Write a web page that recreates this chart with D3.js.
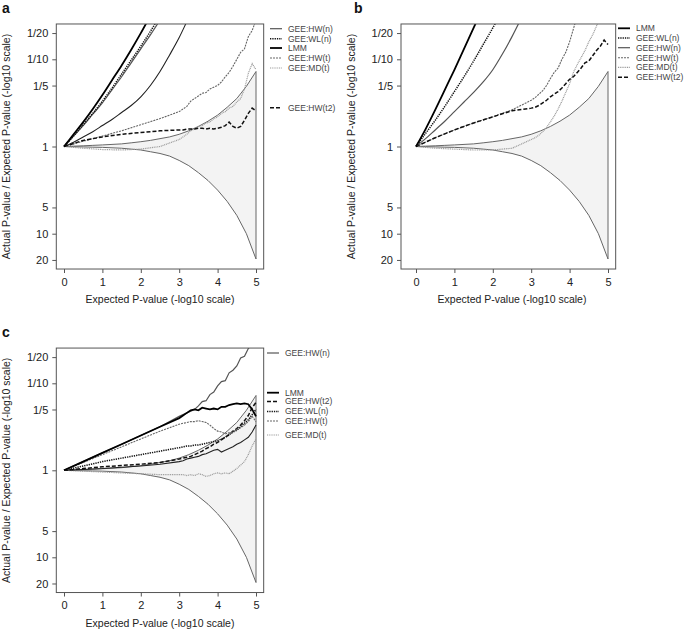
<!DOCTYPE html>
<html>
<head>
<meta charset="utf-8">
<script src="https://cdn.jsdelivr.net/npm/d3@7"></script>
<style>
  body { margin: 0; background: #fff; }
  text { font-family: "Liberation Sans", Arial, Helvetica, sans-serif; }
</style>
</head>
<body>
<div id="chart"></div>
<script>
// x positions (expected p-value, -log10)
const xGrid = [0,0.25,0.5,0.75,1,1.25,1.5,1.75,2,2.25,2.5,2.75,3,3.25,3.5,3.75,4,4.25,4.5,4.75,5];
const xJag = [0,0.5,1,1.5,2,2.5,3,3.1,3.2,3.3,3.4,3.5,3.6,3.7,3.8,3.9,4,4.1,4.2,4.3,4.4,4.5,4.6,4.7,4.8,4.9,5];

// y values are log10(expected / actual), so 1.301 = "1/20"
const yTickVals = [1.301, 1, 0.699, 0, -0.699, -1, -1.301];
const yTickLabels = ["1/20", "1/10", "1/5", "1", "5", "10", "20"];
const xTickVals = [0, 1, 2, 3, 4, 5];

// 95% band (same in every panel), on xGrid
const bandUpper = [0,.004,.008,.013,.018,.024,.03,.042,.055,.07,.09,.11,.14,.18,.23,.29,.36,.45,.55,.69,.86];
const bandLower = [0,-.003,-.005,-.008,-.01,-.015,-.02,-.03,-.04,-.06,-.08,-.11,-.16,-.22,-.30,-.39,-.5,-.63,-.79,-1.0,-1.29];

// panel a
const aLMM  = [0,.14,.28,.43,.59,.76,.93,1.11,1.3,1.5,1.7];
const aWLn  = [0,.12,.25,.38,.52,.67,.83,.99,1.15,1.32,1.5];
const aHWn  = [0,.12,.24,.37,.5,.65,.8,.96,1.12,1.28,1.45];
const aOther = [0,.05,.11,.17,.24,.31,.39,.47,.57,.7,.86,1.05,1.25,1.48,1.7];
const aHWt  = [0,.06,.12,.18,.25,.32,.40,.43,.46,.52,.55,.58,.61,.62,.66,.68,.70,.74,.80,.85,.92,1.0,1.08,1.12,1.26,1.33,1.45];
const aMDt  = [0,-.02,-.035,-.04,-.03,0,.08,.11,.14,.18,.20,.23,.24,.27,.28,.32,.34,.38,.40,.44,.46,.51,.55,.66,.84,.95,.88];
const aHWt2 = [0,.07,.11,.14,.16,.18,.19,.19,.20,.20,.20,.21,.21,.20,.21,.20,.21,.22,.24,.28,.23,.21,.23,.30,.38,.44,.41];

// panel b
const bLMM  = [0,.2,.42,.65,.88,1.12,1.36,1.6];
const bWLn  = [0,.15,.3,.46,.63,.8,.98,1.17,1.36,1.56];
const bHWn  = [0,.09,.19,.29,.4,.51,.62,.74,.88,1.06,1.26,1.48];
const bHWt  = [0,.1,.19,.27,.34,.42,.53,.56,.60,.64,.70,.78,.85,.90,1.0,1.08,1.2,1.35,1.5];
const bMDt  = [0,-.02,-.03,-.04,-.04,-.02,.08,.10,.13,.17,.22,.28,.35,.43,.52,.62,.72,.85,.94,1.02,1.10,1.20,1.28,1.38,1.5];
const bHWt2 = [0,.1,.19,.27,.34,.41,.44,.45,.47,.50,.53,.57,.60,.63,.67,.72,.77,.80,.85,.90,.96,.98,1.04,1.10,1.15,1.22,1.17];

// panel c
const cHWn  = [0,.1,.2,.3,.4,.5,.62,.64,.66,.68,.70,.74,.79,.80,.87,.90,.97,1.02,1.03,1.12,1.15,1.2,1.29,1.31,1.4,1.45,1.55];
const cLMM  = [0,.1,.2,.3,.4,.5,.6,.63,.66,.69,.70,.69,.72,.71,.70,.71,.70,.73,.73,.75,.76,.77,.76,.77,.76,.70,.62];
const cHWt  = [0,.09,.18,.27,.36,.45,.53,.54,.55,.56,.56,.57,.56,.55,.52,.48,.45,.44,.42,.43,.44,.47,.49,.52,.56,.62,.56];
const cWLn  = [0,.05,.1,.14,.18,.22,.26,.27,.28,.28,.29,.29,.30,.31,.32,.33,.34,.36,.38,.41,.44,.46,.5,.54,.58,.64,.70];
const cHWt2 = [0,.02,.04,.055,.07,.09,.13,.14,.15,.16,.18,.20,.22,.25,.27,.30,.32,.35,.38,.41,.45,.48,.52,.57,.63,.72,.78];
const cOther = [0,.01,.02,.035,.05,.07,.10,.11,.13,.14,.15,.16,.18,.19,.21,.23,.24,.21,.23,.25,.27,.30,.32,.35,.38,.44,.52];
const cMDt  = [0,-.01,-.02,-.03,-.04,-.05,-.05,-.05,-.06,-.05,-.06,-.04,-.05,-.07,-.06,-.04,-.03,-.04,-.03,-.04,-.01,.02,.06,.10,.18,.28,.36];

// line styles per method
const styles = {
  "LMM":        {stroke: "#000", width: 1.8, dash: null},
  "GEE:WL(n)":  {stroke: "#111", width: 1.5, dash: "1.3,1"},
  "GEE:HW(n)":  {stroke: "#555", width: 1.2, dash: null},
  "GEE:HW(t)":  {stroke: "#666", width: 1.1, dash: "2,1"},
  "GEE:MD(t)":  {stroke: "#999", width: 1.2, dash: "1,0.8"},
  "GEE:HW(t2)": {stroke: "#111", width: 1.5, dash: "4,2"},
  "other":      {stroke: "#222", width: 1.1, dash: null}
};

const panels = [
  {id: "a", x0: 64, boxLeft: 56.3, yc: 146.5, k: 87.2, legendX: 270,
   legend: ["GEE:HW(n)", "GEE:WL(n)", "LMM", "GEE:HW(t)", "GEE:MD(t)", "GEE:HW(t2)"],
   legendY: [28.7, 38.7, 48, 58, 68, 107.7],
   series: [
     {name: "other", xs: xGrid, v: aOther, smooth: true},
     {name: "GEE:MD(t)", xs: xJag, v: aMDt},
     {name: "GEE:HW(t)", xs: xJag, v: aHWt},
     {name: "GEE:HW(t2)", xs: xJag, v: aHWt2},
     {name: "GEE:HW(n)", xs: xGrid, v: aHWn, smooth: true},
     {name: "GEE:WL(n)", xs: xGrid, v: aWLn, smooth: true},
     {name: "LMM", xs: xGrid, v: aLMM, smooth: true}
   ]},
  {id: "b", x0: 416, boxLeft: 401, yc: 146.5, k: 87.2, legendX: 618,
   legend: ["LMM", "GEE:WL(n)", "GEE:HW(n)", "GEE:HW(t)", "GEE:MD(t)", "GEE:HW(t2)"],
   legendY: [28.3, 38, 47.7, 57.7, 67.3, 77.3],
   series: [
     {name: "GEE:MD(t)", xs: xJag, v: bMDt},
     {name: "GEE:HW(t)", xs: xJag, v: bHWt},
     {name: "GEE:HW(t2)", xs: xJag, v: bHWt2},
     {name: "GEE:HW(n)", xs: xGrid, v: bHWn, smooth: true},
     {name: "GEE:WL(n)", xs: xGrid, v: bWLn, smooth: true},
     {name: "LMM", xs: xGrid, v: bLMM, smooth: true}
   ]},
  {id: "c", x0: 64, boxLeft: 56.3, yc: 470.3, k: 87, legendX: 267,
   legend: ["GEE:HW(n)", "LMM", "GEE:HW(t2)", "GEE:WL(n)", "GEE:HW(t)", "GEE:MD(t)"],
   legendY: [353, 392.7, 401.5, 411.5, 421, 435],
   series: [
     {name: "GEE:MD(t)", xs: xJag, v: cMDt},
     {name: "other", xs: xJag, v: cOther},
     {name: "GEE:HW(t2)", xs: xJag, v: cHWt2},
     {name: "GEE:WL(n)", xs: xJag, v: cWLn},
     {name: "GEE:HW(t)", xs: xJag, v: cHWt},
     {name: "GEE:HW(n)", xs: xJag, v: cHWn},
     {name: "LMM", xs: xJag, v: cLMM}
   ]}
];

const svg = d3.select("#chart").append("svg")
  .attr("width", 685)
  .attr("height", 635);

panels.forEach((p) => {
  let x = d3.scaleLinear().domain([0, 5]).range([p.x0, p.x0 + 192]);
  let y = d3.scaleLinear().domain([-1.301, 1.301])
    .range([p.yc + p.k * 1.301, p.yc - p.k * 1.301]);

  let bx0 = p.boxLeft, bx1 = x(5.2), by0 = y(1.405), by1 = y(-1.405);
  let g = svg.append("g");

  svg.append("clipPath").attr("id", "clip-" + p.id)
    .append("rect")
    .attr("x", bx0).attr("y", by0)
    .attr("width", bx1 - bx0).attr("height", by1 - by0);

  let plot = g.append("g").attr("clip-path", "url(#clip-" + p.id + ")");

  // confidence band
  let area = d3.area()
    .x((d, i) => x(xGrid[i]))
    .y0((d, i) => y(bandLower[i]))
    .y1((d) => y(d));
  plot.append("path")
    .datum(bandUpper)
    .attr("d", area)
    .attr("fill", "#f3f3f3")
    .attr("stroke", "#666")
    .attr("stroke-width", 1);

  p.series.forEach((s) => {
    let st = styles[s.name];
    let line = d3.line()
      .x((d, i) => x(s.xs[i]))
      .y((d) => y(d))
      .curve(s.smooth ? d3.curveMonotoneX : d3.curveLinear);
    plot.append("path")
      .datum(s.v)
      .attr("d", line)
      .attr("fill", "none")
      .attr("stroke", st.stroke)
      .attr("stroke-width", st.width)
      .attr("stroke-dasharray", st.dash);
  });

  // box
  g.append("rect")
    .attr("x", bx0).attr("y", by0)
    .attr("width", bx1 - bx0).attr("height", by1 - by0)
    .attr("fill", "none")
    .attr("stroke", "#555")
    .attr("stroke-width", 1);

  // axes
  let yAxis = d3.axisLeft(y)
    .tickValues(yTickVals)
    .tickFormat((d, i) => yTickLabels[i])
    .tickSize(4)
    .tickPadding(4);
  let ya = g.append("g").attr("transform", "translate(" + bx0 + ",0)").call(yAxis);

  let xAxis = d3.axisBottom(x)
    .tickValues(xTickVals)
    .tickFormat(d3.format("d"))
    .tickSize(4)
    .tickPadding(5);
  let xa = g.append("g").attr("transform", "translate(0," + by1 + ")").call(xAxis);

  [ya, xa].forEach((a) => {
    a.select(".domain").remove();
    a.selectAll("line").attr("stroke", "#555");
    a.selectAll("text")
      .attr("font-size", 11)
      .attr("fill", "#222")
      .attr("font-family", "'Liberation Sans', Arial, sans-serif");
  });

  // axis titles
  g.append("text")
    .attr("x", x(2.5))
    .attr("y", by1 + 34)
    .attr("text-anchor", "middle")
    .attr("font-size", 10.5)
    .attr("fill", "#222")
    .text("Expected P-value (-log10 scale)");

  g.append("text")
    .attr("transform", "translate(" + (bx0 - 46) + "," + ((by0 + by1) / 2) + ") rotate(-90)")
    .attr("text-anchor", "middle")
    .attr("font-size", 10.5)
    .attr("fill", "#222")
    .text("Actual P-value / Expected P-value (-log10 scale)");

  // panel letter
  g.append("text")
    .attr("x", p.x0 - 62)
    .attr("y", by0 - 11)
    .attr("font-size", 14)
    .attr("font-weight", "bold")
    .attr("fill", "#111")
    .text(p.id);

  // legend
  let leg = g.append("g");
  p.legend.forEach((name, i) => {
    let st = styles[name];
    let ly = p.legendY[i];
    leg.append("line")
      .attr("x1", p.legendX).attr("x2", p.legendX + 12)
      .attr("y1", ly).attr("y2", ly)
      .attr("stroke", st.stroke)
      .attr("stroke-width", st.width)
      .attr("stroke-dasharray", st.dash);
    leg.append("text")
      .attr("x", p.legendX + 18)
      .attr("y", ly)
      .attr("dy", "0.35em")
      .attr("font-size", 8.5)
      .attr("fill", "#444")
      .text(name);
  });
});
</script>
</body>
</html>
